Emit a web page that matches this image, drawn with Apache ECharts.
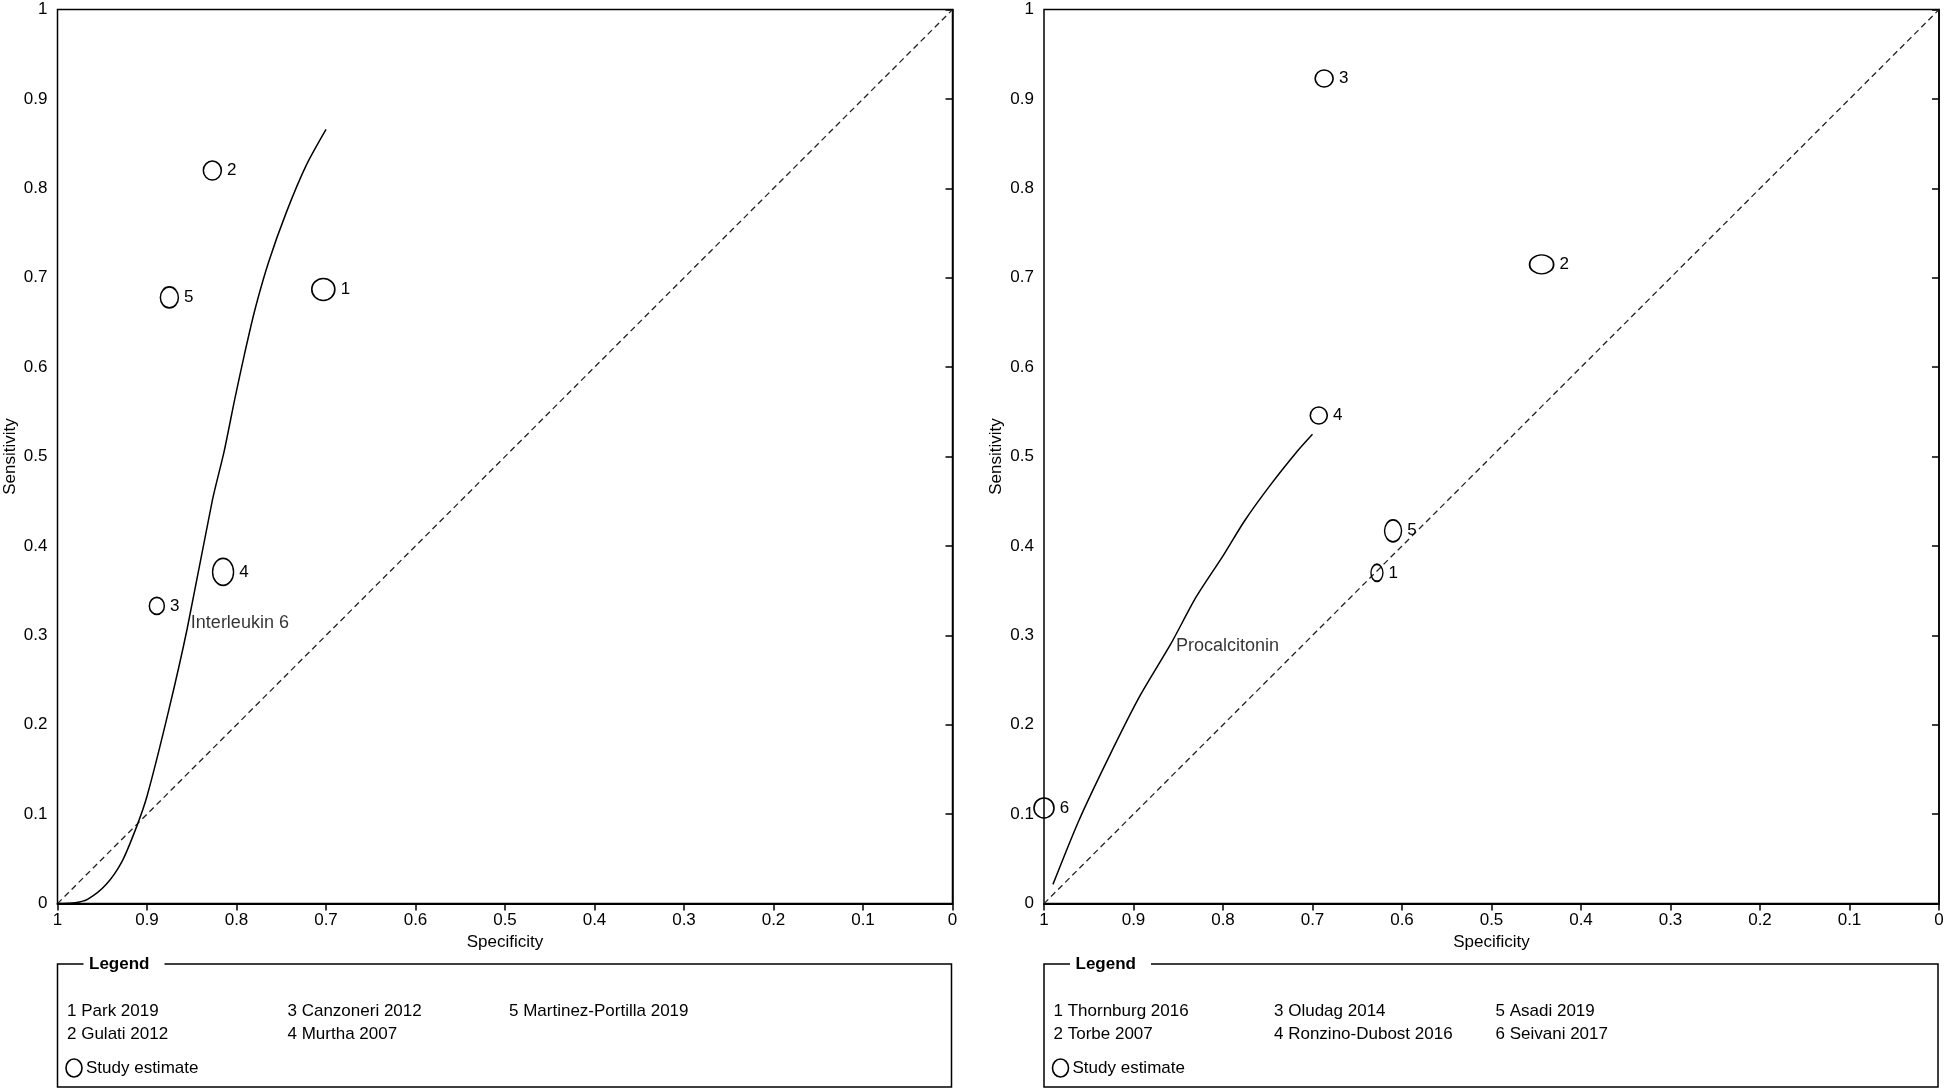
<!DOCTYPE html>
<html>
<head>
<meta charset="utf-8">
<script src="https://cdn.jsdelivr.net/npm/echarts@6/dist/echarts.min.js"></script>
<style>
  html, body { margin: 0; padding: 0; background: #fff; }
  #chart { width: 1946px; height: 1091px; }
</style>
</head>
<body>
<div id="chart"></div>
<script>
// Interleukin 6 (left panel), points are [specificity, sensitivity]
const il6Studies = ['Park 2019', 'Gulati 2012', 'Canzoneri 2012', 'Murtha 2007', 'Martinez-Portilla 2019'];
const il6Points = [[0.703, 0.687], [0.827, 0.820], [0.889, 0.333], [0.815, 0.371], [0.875, 0.678]];
const il6Curve = [
  [1, 0], [0.98, 0.001], [0.966, 0.005], [0.946, 0.021], [0.928, 0.047], [0.912, 0.085],
  [0.9, 0.12], [0.876, 0.215], [0.855, 0.308], [0.827, 0.451], [0.814, 0.505], [0.802, 0.564],
  [0.791, 0.615], [0.779, 0.666], [0.764, 0.718], [0.744, 0.774], [0.722, 0.826], [0.7, 0.866]
];
const il6LabelAt = [0.851, 0.314];

// Procalcitonin (right panel)
const pctStudies = ['Thornburg 2016', 'Torbe 2007', 'Oludag 2014', 'Ronzino-Dubost 2016', 'Asadi 2019', 'Seivani 2017'];
const pctPoints = [[0.628, 0.37], [0.444, 0.715], [0.687, 0.923], [0.693, 0.546], [0.61, 0.417], [1.0, 0.107]];
const pctCurve = [
  [0.99, 0.0215], [0.961, 0.093], [0.927, 0.165], [0.893, 0.232], [0.858, 0.291], [0.83, 0.343],
  [0.8, 0.389], [0.776, 0.428], [0.748, 0.467], [0.717, 0.506], [0.7, 0.525]
];
const pctLabelAt = [0.8525, 0.288];

const chanceLine = [[1, 0], [0, 1]];
const axisTitles = { x: 'Specificity', y: 'Sensitivity' };

// ellipse sizes in pixels (width, height) for each study marker
const il6Ellipse = [[23, 22], [18, 19], [15, 17], [21, 27], [18, 21]];
const pctEllipse = [[12, 17], [24, 19], [18, 17], [17, 17], [17, 22], [20, 20]];

const FONT = '"Liberation Sans", Arial, sans-serif';
const panels = [
  { left: 57.5, studies: il6Studies, points: il6Points, curve: il6Curve, name: 'Interleukin 6', at: il6LabelAt, sizes: il6Ellipse },
  { left: 1044, studies: pctStudies, points: pctPoints, curve: pctCurve, name: 'Procalcitonin', at: pctLabelAt, sizes: pctEllipse }
];
const PW = 895, PH = 894, TOP = 9.6;

let grids = [], xAxes = [], yAxes = [], series = [], graphics = [];

panels.forEach(function (p, i) {
  grids.push({
    left: p.left, top: TOP, width: PW, height: PH, show: true,
    borderColor: '#000', borderWidth: 1.5, backgroundColor: '#fff',
    containLabel: false, outerBoundsMode: 'none'
  });
  xAxes.push({
    gridIndex: i, type: 'value', min: 0, max: 1, interval: 0.1, inverse: true,
    name: axisTitles.x, nameLocation: 'middle', nameGap: 29,
    nameTextStyle: { fontFamily: FONT, fontSize: 17, color: '#000' },
    axisLine: { lineStyle: { color: '#000', width: 2 } },
    axisTick: { length: 7, lineStyle: { color: '#000', width: 1.5 } },
    axisLabel: { fontFamily: FONT, fontSize: 17, color: '#000', margin: 8 },
    splitLine: { show: false }
  });
  yAxes.push({
    gridIndex: i, type: 'value', min: 0, max: 1, interval: 0.1,
    name: axisTitles.y, nameLocation: 'middle', nameGap: 39, nameRotate: 90,
    nameTextStyle: { fontFamily: FONT, fontSize: 17, color: '#000' },
    axisLine: { lineStyle: { color: '#000', width: 1.5 } },
    axisTick: { length: 7, lineStyle: { color: '#000', width: 1.5 } },
    axisLabel: { fontFamily: FONT, fontSize: 17, color: '#000', margin: 10 },
    splitLine: { show: false }
  });
  series.push({
    type: 'line', xAxisIndex: i, yAxisIndex: i, data: chanceLine, symbol: 'none',
    lineStyle: { color: '#222', width: 1.3, type: [6, 4] }, z: 2
  });
  series.push({
    type: 'line', xAxisIndex: i, yAxisIndex: i, data: p.curve, symbol: 'none',
    smooth: 0.25,
    lineStyle: { color: '#000', width: 1.5 }, z: 3
  });
  series.push({
    type: 'scatter', xAxisIndex: i, yAxisIndex: i, symbol: 'circle', z: 4,
    data: p.points.map(function (pt, k) { return { value: pt, symbolSize: p.sizes[k] }; }),
    itemStyle: { color: 'rgba(0,0,0,0)', borderColor: '#000', borderWidth: 1.6, opacity: 1 },
    label: {
      show: true, position: 'right', distance: 5,
      fontFamily: FONT, fontSize: 17, color: '#000',
      formatter: function (d) { return String(d.dataIndex + 1); }
    },
    emphasis: { disabled: true }
  });
  series.push({
    type: 'scatter', xAxisIndex: i, yAxisIndex: i, symbolSize: 0, z: 5,
    data: [p.at],
    label: { show: true, position: 'right', distance: 0, fontFamily: FONT, fontSize: 18, color: '#000', formatter: p.name },
    emphasis: { disabled: true }
  });

  // legend box under each panel
  const bx = p.left, by = 964, bw = PW - 1, bh = 123;
  graphics.push({ type: 'rect', shape: { x: bx, y: by, width: bw, height: bh }, style: { fill: 'none', stroke: '#000', lineWidth: 1.5 } });
  graphics.push({ type: 'rect', shape: { x: bx + 26, y: by - 4, width: 81, height: 8 }, style: { fill: '#fff' } });
  graphics.push({ type: 'text', x: bx + 31.5, y: by, style: { text: 'Legend', font: 'bold 17px ' + FONT, fill: '#000', verticalAlign: 'middle' } });
  const colX = [9.5, 230, 451.5], rowY = [1011, 1034.5];
  p.studies.forEach(function (s, k) {
    graphics.push({ type: 'text', x: bx + colX[Math.floor(k / 2)], y: rowY[k % 2],
      style: { text: (k + 1) + ' ' + s, font: '17px ' + FONT, fill: '#000', verticalAlign: 'middle' } });
  });
  graphics.push({ type: 'ellipse', shape: { cx: bx + 16.5, cy: 1068, rx: 8, ry: 9 }, style: { fill: 'none', stroke: '#000', lineWidth: 1.6 } });
  graphics.push({ type: 'text', x: bx + 28.5, y: 1068, style: { text: 'Study estimate', font: '17px ' + FONT, fill: '#000', verticalAlign: 'middle' } });
});

const chart = echarts.init(document.getElementById('chart'));
chart.setOption({
  animation: false,
  backgroundColor: '#fff',
  grid: grids,
  xAxis: xAxes,
  yAxis: yAxes,
  series: series,
  graphic: graphics
});
</script>
</body>
</html>
